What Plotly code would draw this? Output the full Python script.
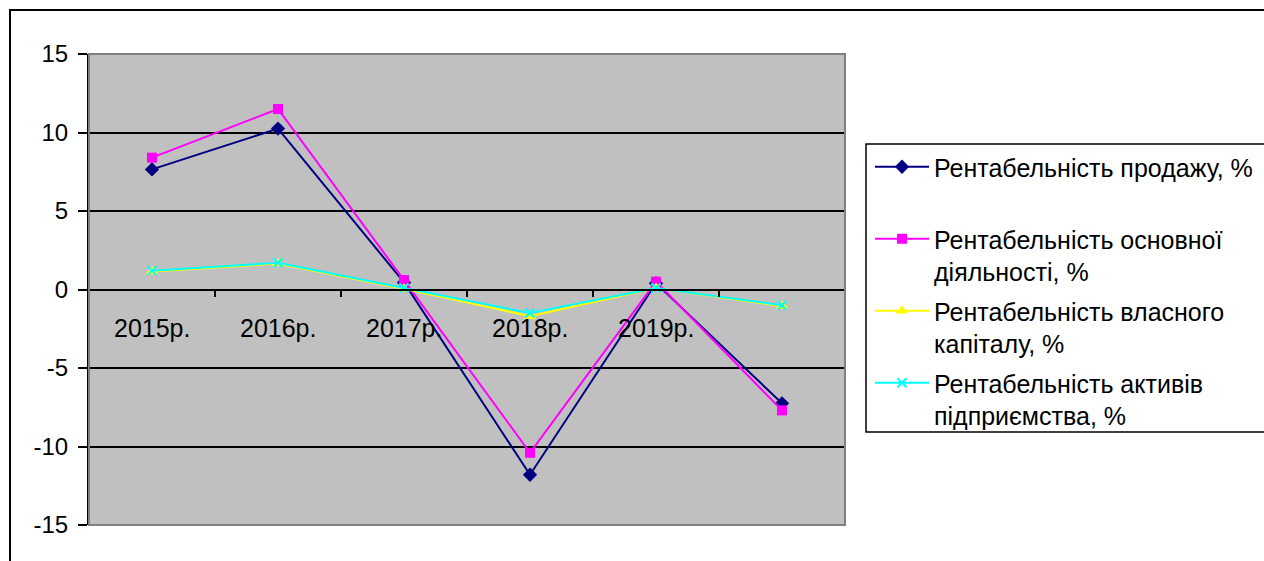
import plotly.graph_objects as go

categories = ["2015р.", "2016р.", "2017р.", "2018р.", "2019р.", ""]
x_idx = list(range(len(categories)))

names = [
    "Рентабельність продажу, %<br>\u00a0",
    "Рентабельність основної<br>діяльності, %",
    "Рентабельність власного<br>капіталу, %",
    "Рентабельність активів<br>підприємства, %",
]
sales = [7.65, 10.25, 0.45, -11.8, 0.4, -7.25]
core = [8.4, 11.5, 0.6, -10.4, 0.5, -7.7]
equity = [1.15, 1.65, 0.05, -1.7, 0.1, -1.05]
assets = [1.2, 1.7, 0.1, -1.5, 0.1, -1.0]

y_ticks = [-15, -10, -5, 0, 5, 10, 15]
y_tick_text = ["-15", "-10", "-5", "0", "5", "10", "15"]

FONT = "Arial, 'Liberation Sans', sans-serif"
FS = 25
FS_Y = 24

fig = go.Figure()
fig.add_trace(go.Scatter(x=x_idx, y=sales, name=names[0], mode="lines+markers",
                         line=dict(color="#000080", width=2),
                         marker=dict(symbol="diamond", size=11, color="#000080"),
                         legendgroup="a"))
fig.add_trace(go.Scatter(x=x_idx, y=core, name=names[1], mode="lines+markers",
                         line=dict(color="#FF00FF", width=2),
                         marker=dict(symbol="square", size=10, color="#FF00FF"),
                         legendgroup="b"))
fig.add_trace(go.Scatter(x=x_idx, y=equity, name=names[2], mode="lines+markers",
                         line=dict(color="#FFFF00", width=2),
                         marker=dict(symbol="triangle-up", size=11, color="#FFFF00"),
                         legendgroup="c"))
fig.add_trace(go.Scatter(x=x_idx, y=assets, name=names[3], mode="lines+markers",
                         line=dict(color="#00FFFF", width=2),
                         marker=dict(symbol="x-thin", size=9, color="#00FFFF",
                                     line=dict(color="#00FFFF", width=2)),
                         legendgroup="d"))

L, R, T, B = 89, 1264 - 845, 54, 561 - 525
W, H = 1264 - L - R, 561 - T - B


def fx(px):
    return (px - L) / W


def fy(py):
    return (561 - B - py) / H


annotations = []
for i, c in enumerate(categories):
    if c:
        annotations.append(dict(x=i, y=0, xref="x", yref="y", text=c, showarrow=False,
                                yshift=-38, yanchor="middle", xanchor="center",
                                font=dict(family=FONT, size=FS, color="black")))

shapes = [
    dict(type="rect", xref="paper", yref="paper", x0=0, x1=1, y0=0, y1=1,
         line=dict(color="#808080", width=2), layer="above"),
    dict(type="rect", xref="paper", yref="paper", x0=fx(10), x1=fx(1290), y0=fy(10), y1=fy(590),
         line=dict(color="black", width=2)),
    dict(type="rect", xref="paper", yref="paper", x0=fx(866), x1=fx(1290), y0=fy(144), y1=fy(432),
         line=dict(color="black", width=1.5)),
]

fig.update_layout(
    width=1264, height=561,
    margin=dict(l=L, r=R, t=T, b=B, pad=0, autoexpand=False),
    paper_bgcolor="white", plot_bgcolor="#C0C0C0",
    font=dict(family=FONT, size=FS, color="black"),
    showlegend=True,
    legend=dict(x=fx(870), y=fy(144), xanchor="left", yanchor="top",
                bgcolor="rgba(0,0,0,0)", borderwidth=0, valign="top",
                tracegroupgap=4, traceorder="grouped", itemwidth=54,
                font=dict(family=FONT, size=FS, color="black")),
    xaxis=dict(range=[-0.5, 5.5], anchor="free", position=0.5,
               showgrid=False, zeroline=False, showline=True, linecolor="black", linewidth=2,
               tickvals=[0.5, 1.5, 2.5, 3.5, 4.5], ticks="outside", ticklen=6,
               tickcolor="black", tickwidth=2, showticklabels=False),
    yaxis=dict(range=[-15, 15], tickvals=y_ticks, ticktext=y_tick_text,
               ticks="outside", ticklen=9, ticklabelstandoff=5,
               tickcolor="black", tickwidth=2,
               showgrid=True, gridcolor="black", gridwidth=2,
               zeroline=True, zerolinecolor="black", zerolinewidth=2,
               showline=True, linecolor="black", linewidth=2,
               tickfont=dict(family=FONT, size=FS_Y, color="black")),
    annotations=annotations,
    shapes=shapes,
)

fig.write_html("out.html")
